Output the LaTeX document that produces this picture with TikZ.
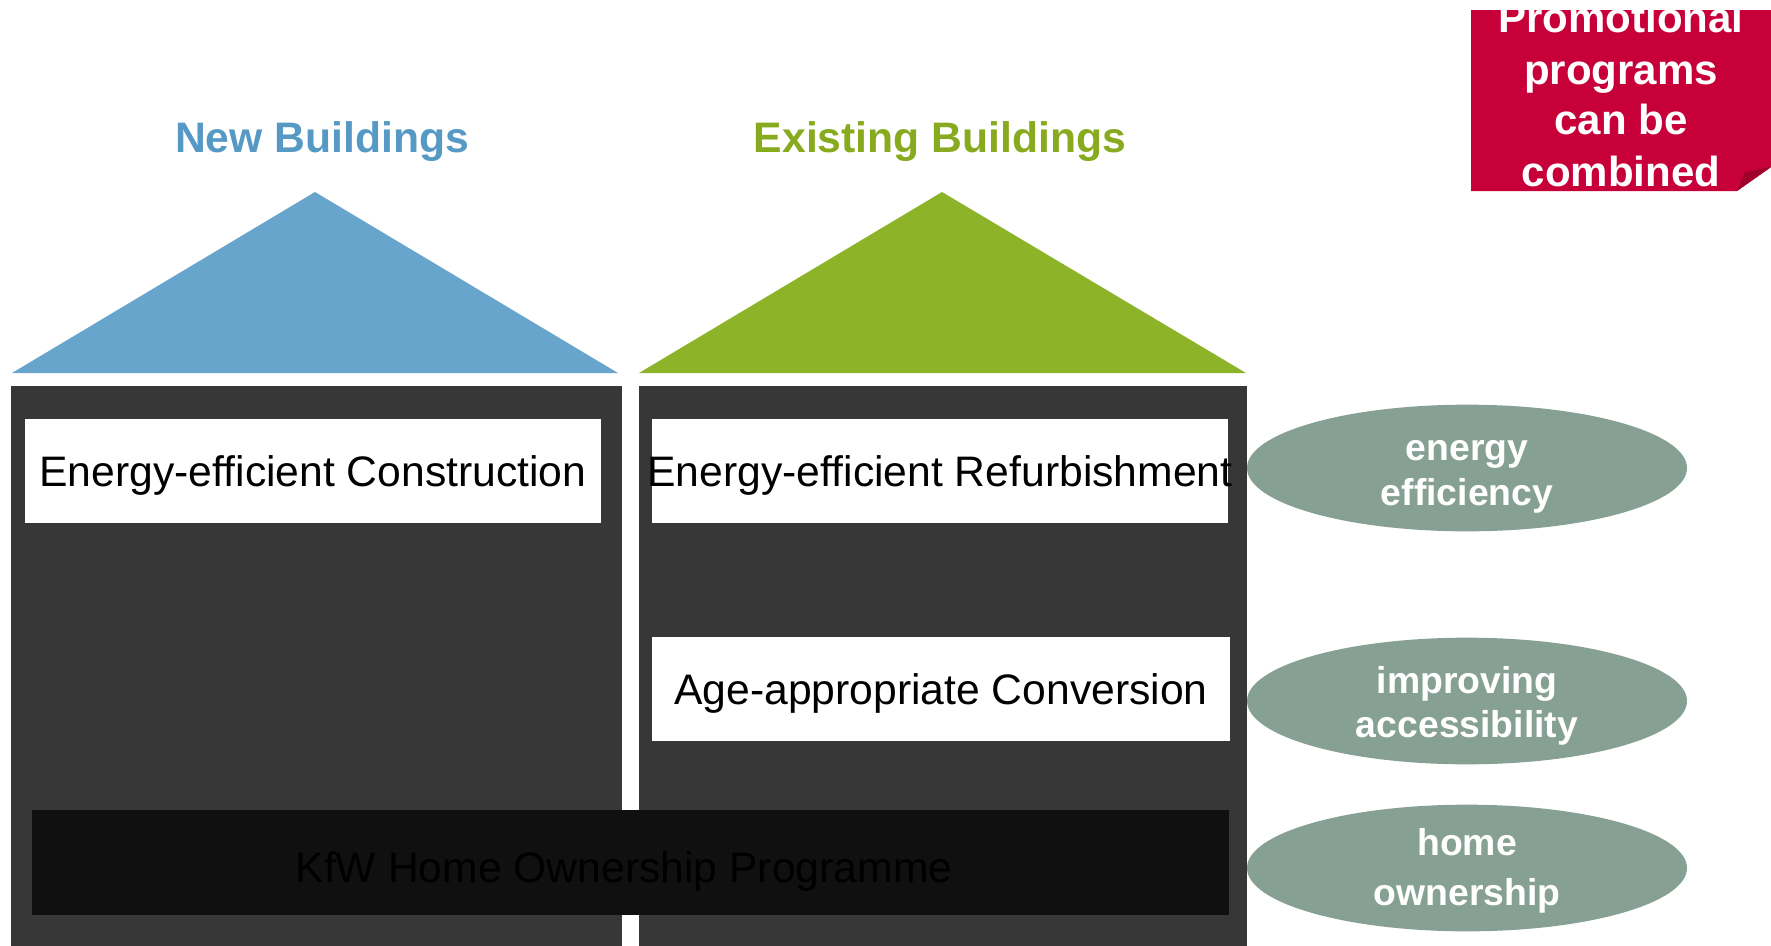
\documentclass[tikz,border=0pt]{standalone}
\usepackage{fontspec}
\setmainfont{Liberation Sans}
\usetikzlibrary{shapes.geometric}
\definecolor{roofblue}{RGB}{104,165,205}
\definecolor{roofgreen}{RGB}{141,180,40}
\definecolor{titleblue}{RGB}{86,153,196}
\definecolor{titlegreen}{RGB}{135,170,30}
\definecolor{pillargray}{RGB}{55,55,55}
\definecolor{kfwbar}{RGB}{16,16,16}
\definecolor{ellfill}{RGB}{135,160,148}
\definecolor{promored}{RGB}{200,0,58}
\definecolor{foldred}{RGB}{158,0,44}
\tikzset{
  titletext/.style={font=\bfseries\fontsize{32}{37}\selectfont, anchor=base, inner sep=0pt},
  whitebox/.style={rectangle, fill=white, inner sep=0pt, minimum height=78pt,
     font=\fontsize{32}{37}\selectfont, text height=22.9pt, text depth=0pt},
  goal/.style={ellipse, fill=ellfill, inner sep=0pt, minimum width=330pt, minimum height=95pt},
  goaltext/.style={text=white, align=center, inner sep=0pt, font=\bfseries\fontsize{28}{33.5}\selectfont},
  promotext/.style={text=white, font=\bfseries\fontsize{31.5}{37}\selectfont, anchor=base, inner sep=0pt}
}
\begin{document}
\begin{tikzpicture}[x=0.75pt,y=-0.75pt]
\useasboundingbox (0,0) rectangle (1771,946);
\fill[white] (0,0) rectangle (1771,946);
% titles
\node[titletext, text=titleblue] (tnew) at (322,152) {New Buildings};
\node[titletext, text=titlegreen] (texist) at (940,152) {Existing Buildings};
% roofs
\fill[roofblue] (12,373) -- (315,192) -- (618,373) -- cycle;
\fill[roofgreen] (639,373) -- (942,192) -- (1246,373) -- cycle;
% pillars
\fill[pillargray] (11,386) rectangle (622,946);
\fill[pillargray] (639,386) rectangle (1247,946);
% white boxes
\node[whitebox, minimum width=432pt] (eec) at (313,471) {\makebox[0pt][c]{Energy-efficient Construction}};
\node[whitebox, minimum width=432pt] (eer) at (940,471) {\makebox[0pt][c]{Energy-efficient Refurbishment}};
\node[whitebox, minimum width=433.5pt] (aac) at (941,689) {\makebox[0pt][c]{Age-appropriate Conversion}};
% KfW bar
\node[rectangle, fill=kfwbar, inner sep=0pt, minimum width=897.75pt, minimum height=78.75pt] (kfw) at (630.5,862.5) {};
\node[font=\fontsize{32}{37}\selectfont, text=black, inner sep=0pt, text height=22.9pt, text depth=0pt] (kfwtext) at (624,867)
      {KfW Home Ownership Programme};
% goals
\node[goal] (ee) at (1467,468) {};
\node[goal] (ia) at (1467,701) {};
\node[goal] (ho) at (1467,868) {};
\node[goaltext] (eet) at (1467,477) {energy\\efficiency};
\node[goaltext] (iat) at (1467,706) {improving\\accessibility};
\node[goaltext, font=\bfseries\fontsize{28}{38}\selectfont] (hot) at (1467,871) {home\\ownership};
% promo box
\fill[promored] (1471,10) -- (1771,10) -- (1771,167) -- (1737,191) -- (1471,191) -- cycle;
\fill[foldred] (1737,191) -- (1745,172) -- (1771,167) -- cycle;
\node[promotext] (p1) at (1621,32) {Promotional};
\node[promotext] (p2) at (1621,84) {programs};
\node[promotext] (p3) at (1621,134) {can be};
\node[promotext] (p4) at (1621,186) {combined};
\end{tikzpicture}
\end{document}
